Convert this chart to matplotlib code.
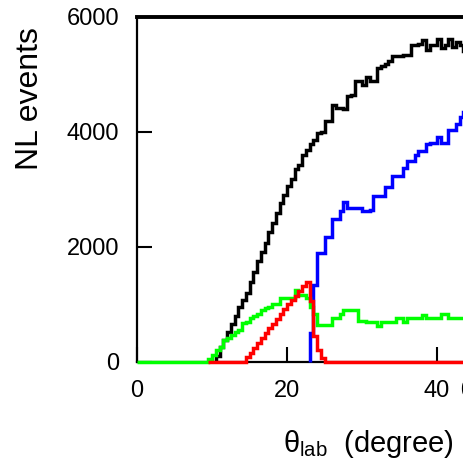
import matplotlib
matplotlib.use("Agg")
import matplotlib.pyplot as plt
import numpy as np

plt.rcParams['font.family'] = ['Liberation Sans', 'DejaVu Sans']
plt.rcParams['mathtext.fontset'] = 'custom'
plt.rcParams['mathtext.rm'] = 'Liberation Sans'
plt.rcParams['mathtext.it'] = 'Liberation Sans'

# histogram bin width (degree)
bin_width = 0.5

# all events
black_start = 10.5
black_counts = [100, 250, 380, 520, 650, 800, 950, 1080, 1200, 1380,
                1560, 1750, 1900, 2070, 2250, 2420, 2590, 2760, 2900, 3050,
                3180, 3350, 3420, 3600, 3680, 3780, 3850, 3980, 4000, 4180,
                4190, 4460, 4420, 4410, 4400, 4620, 4630, 4880, 4880, 4820,
                4960, 4880, 4890, 5100, 5150, 5180, 5230, 5310, 5320, 5320,
                5330, 5340, 5500, 5510, 5520, 5600, 5420, 5500, 5500, 5620,
                5450, 5500, 5620, 5480, 5560, 5500, 5400]

# blue component
blue_start = 23.0
blue_counts = [500, 1330, 1890, 1890, 2170, 2170, 2480, 2480, 2620, 2780,
               2670, 2670, 2670, 2670, 2620, 2620, 2640, 2880, 2880, 2880,
               3040, 3040, 3230, 3230, 3230, 3370, 3490, 3490, 3600, 3660,
               3660, 3780, 3800, 3800, 3900, 3800, 3800, 4030, 4030, 4130,
               4260, 4350]

# green component
green_start = 0.0
green_counts = [0] * 19 + [
    47, 117, 200, 256, 377, 420, 464, 520, 551, 673,
    690, 760, 800, 829, 900, 934, 960, 1003, 1003, 1108,
    1108, 1108, 1108, 1247, 1160, 1160, 1108, 950, 830, 640,
    640, 640, 640, 760, 760, 830, 900, 900, 900, 900,
    710, 710, 690, 690, 690, 620, 690, 690, 690, 690,
    760, 760, 690, 760, 760, 760, 760, 820, 760, 760,
    760, 760, 830, 830, 760, 760, 760, 760, 760, 760]

# red component
red_start = 9.5
red_counts = [0] * 10 + [
    80, 150, 230, 320, 420, 500, 580, 660, 750, 830,
    920, 1000, 1070, 1150, 1230, 1310, 1390, 1050, 450, 200,
    70] + [0] * 38

series = [
    (black_start, black_counts, 'black'),
    (blue_start, blue_counts, '#0000ff'),
    (green_start, green_counts, '#00ff00'),
    (red_start, red_counts, '#ff0000'),
]

fig = plt.figure(figsize=(4.63, 4.62), dpi=100)
ax = fig.add_axes([137 / 463, 1 - 361.7 / 462, 330 / 463, 345 / 462])

for start, counts, color in series:
    edges = start + bin_width * np.arange(len(counts) + 1)
    ax.stairs(counts, edges, color=color, linewidth=2.5, baseline=0,
              clip_on=False, zorder=3)

ax.set_xlim(0, 44)
ax.set_ylim(0, 6000)
ax.set_xticks([0, 20, 40])
ax.set_yticks([0, 2000, 4000, 6000])
ax.tick_params(direction='in', length=11, width=1.5, pad=13, labelsize=17,
               top=False, right=False)
for side in ['left', 'bottom']:
    ax.spines[side].set_linewidth(1.6)
ax.spines['top'].set_linewidth(2.8)
ax.spines['right'].set_visible(False)

ax.set_ylabel('NL events', fontsize=23)
ax.yaxis.set_label_coords(-0.28, 0.764)

fig.text(283 / 463, 1 - 452 / 462, r'$\theta_{\mathrm{lab}}$  (degree)',
         fontsize=21, ha='left', va='baseline')
fig.text(467 / 463, 1 - 397 / 462, '0', fontsize=17, ha='center',
         va='baseline')

fig.savefig('out.png', dpi=100)
